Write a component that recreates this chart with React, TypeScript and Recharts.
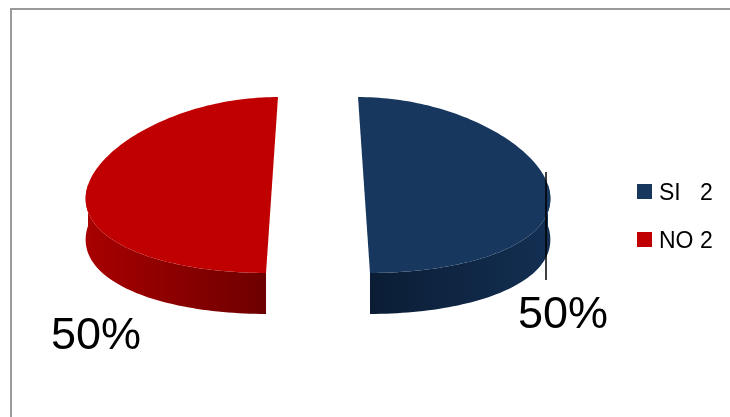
import React from "react";
import { PieChart, Pie, Cell, Legend } from "recharts";

const categories = ["SI", "NO"];
const counts = [2, 2];
const legendLabels = ["SI   2", "NO 2"];
const percentLabels = ["50%", "50%"];

const topColors = ["#17375E", "#C00000"];
const sideColorsA = ["#132F52", "#A80000"];
const sideColorsB = ["#0B1D35", "#6E0000"];

const data = categories.map((name, i) => ({ name, value: counts[i], label: legendLabels[i] }));

const RATIO = 0.478;
const DEPTH = 41;
const EXPLODE = 46;
const PERSPECTIVE = 0.00148;
const RAD = Math.PI / 180;
const FONT = '"Liberation Sans", Arial, sans-serif';

const labelPlacement = [
  { dx: -28, dy: 143, line: true, y1: -13, y2: 95 },
  { dx: -39, dy: 164, line: false, y1: 0, y2: 0 },
];

function Pie3DShape(props: any) {
  const { cx, cy, outerRadius, startAngle, endAngle, midAngle, index } = props;
  const i = index ?? 0;
  const rx = outerRadius;
  const ry = outerRadius * RATIO;
  const ox = EXPLODE * Math.cos(midAngle * RAD);
  const oy = -EXPLODE * Math.sin(midAngle * RAD) * RATIO;
  const c0 = cx + ox;
  const c1 = cy + oy;
  const proj = (x: number, y: number) => [cx + (x - cx) * (1 + PERSPECTIVE * (y - cy)), y];
  const pt = (a: number) => proj(c0 + rx * Math.cos(a * RAD), c1 - ry * Math.sin(a * RAD));
  const lo = Math.min(startAngle, endAngle);
  const hi = Math.max(startAngle, endAngle);
  const sample = (a1: number, a2: number) => {
    const pts: number[][] = [];
    const n = Math.max(2, Math.ceil(Math.abs(a2 - a1) / 1.5));
    for (let k = 0; k <= n; k++) {
      const a = a1 + ((a2 - a1) * k) / n;
      pts.push(pt(a));
    }
    return pts;
  };
  const top = sample(lo, hi);
  const center = proj(c0, c1);
  const topPath =
    `M${center[0]},${center[1]} ` + top.map((p) => `L${p[0]},${p[1]}`).join(" ") + " Z";

  const sides: string[] = [];
  for (let k = -2; k <= 1; k++) {
    const s = Math.max(lo, -180 + 360 * k);
    const e = Math.min(hi, 360 * k);
    if (e > s) {
      const up = sample(s, e);
      const down = up.slice().reverse().map((p) => [p[0], p[1] + DEPTH]);
      const all = up.concat(down);
      sides.push("M" + all.map((p) => `${p[0]},${p[1]}`).join(" L") + " Z");
    }
  }
  const gid = `side-grad-${i}`;
  return (
    <g>
      <defs>
        <linearGradient id={gid} x1="0" y1="0" x2="1" y2="0">
          <stop offset="0%" stopColor={i === 0 ? sideColorsB[i] : sideColorsA[i]} />
          <stop offset="100%" stopColor={i === 0 ? sideColorsA[i] : sideColorsB[i]} />
        </linearGradient>
      </defs>
      {sides.map((d, k) => (
        <path key={k} d={d} fill={`url(#${gid})`} stroke="none" />
      ))}
      <path d={topPath} fill={topColors[i]} stroke="none" />
    </g>
  );
}

function renderLabel(props: any) {
  const { cx, cy, midAngle, outerRadius, index } = props;
  const side = Math.cos(midAngle * RAD) >= 0 ? 1 : -1;
  const ox = EXPLODE * Math.cos(midAngle * RAD);
  const ex = cx + ox + side * outerRadius - side * 2;
  const pl = labelPlacement[index];
  return (
    <g>
      {pl.line && (
        <line x1={ex} y1={cy + pl.y1} x2={ex} y2={cy + pl.y2} stroke="#000" strokeWidth={1.5} />
      )}
      <text x={ex + pl.dx} y={cy + pl.dy} fontSize={45} fontFamily={FONT} fill="#000" textAnchor="start">
        {percentLabels[index]}
      </text>
    </g>
  );
}

function renderLegend(props: any) {
  const payload = props.payload || [];
  return (
    <div style={{ fontFamily: FONT, fontSize: 23, color: "#000" }}>
      {payload.map((entry: any, i: number) => (
        <div key={i} style={{ display: "flex", alignItems: "center", height: 24, marginBottom: 24 }}>
          <span style={{ display: "inline-block", width: 15, height: 15, background: topColors[i], marginRight: 7 }} />
          <span style={{ whiteSpace: "pre", lineHeight: "24px" }}>{legendLabels[i]}</span>
        </div>
      ))}
    </div>
  );
}

export default function App() {
  return (
    <div style={{ position: "relative", width: 714, height: 401 }}>
      <div
        style={{
          position: "fixed",
          left: 10,
          top: 8,
          right: 0,
          bottom: 0,
          borderTop: "2px solid #9a9a9a",
          borderLeft: "2px solid #9a9a9a",
          pointerEvents: "none",
        }}
      />
      <div style={{ position: "absolute", left: 0, top: 0 }}>
        <PieChart width={714} height={401} margin={{ top: 0, right: 0, bottom: 0, left: 0 }}>
          <Pie
            data={data}
            dataKey="value"
            nameKey="name"
            cx={310}
            cy={177}
            outerRadius={184}
            startAngle={90}
            endAngle={-270}
            stroke="none"
            isAnimationActive={false}
            shape={Pie3DShape}
            activeShape={Pie3DShape}
            inactiveShape={Pie3DShape}
            label={renderLabel}
            labelLine={false}
          >
            {data.map((d, i) => (
              <Cell key={d.name} fill={topColors[i]} />
            ))}
          </Pie>
          <Legend
            content={renderLegend}
            layout="vertical"
            verticalAlign="top"
            align="right"
            wrapperStyle={{ left: 629, top: 171.5, width: 100 }}
          />
        </PieChart>
      </div>
    </div>
  );
}
